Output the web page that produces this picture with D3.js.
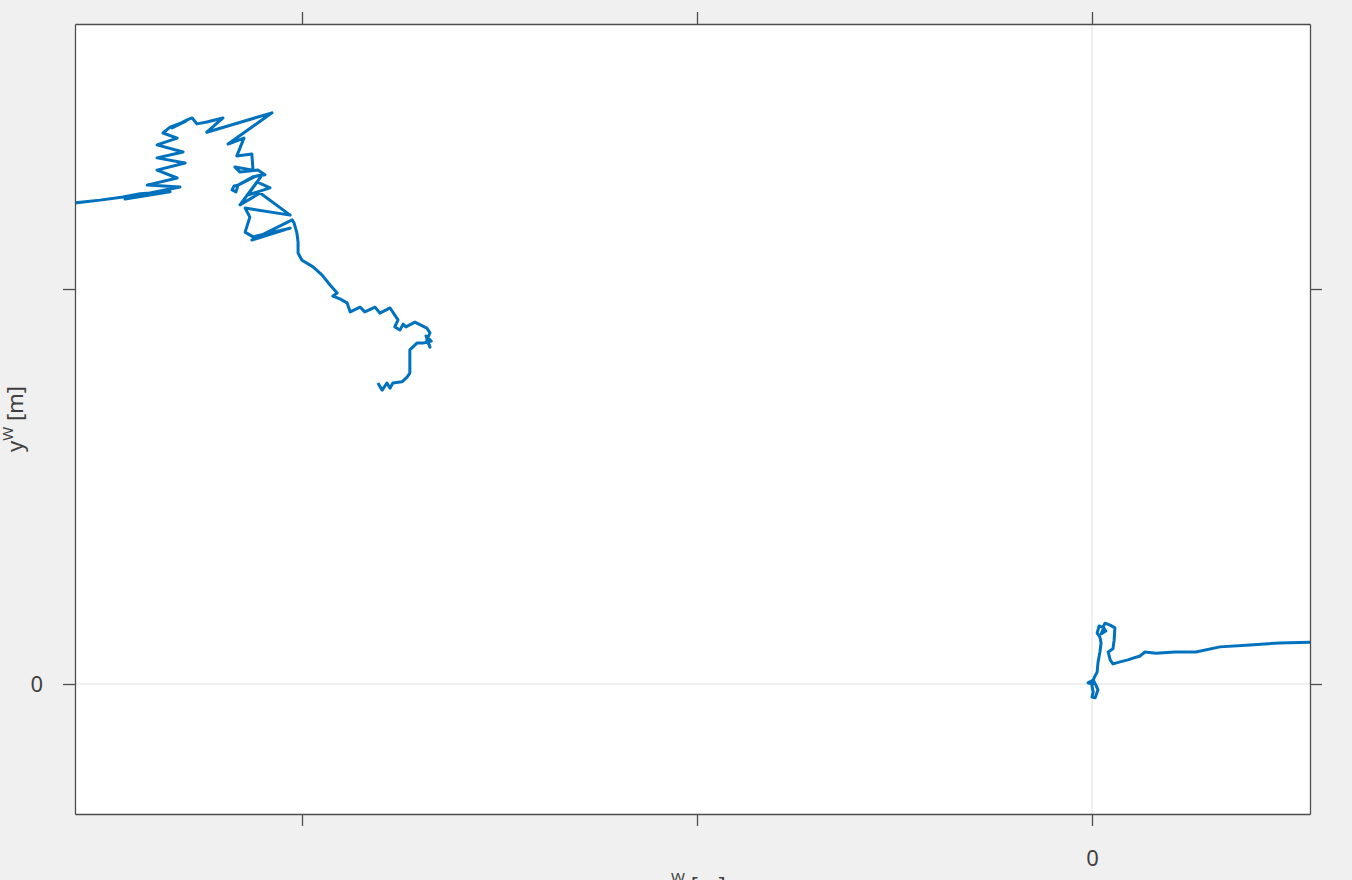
<!DOCTYPE html>
<html>
<head>
<meta charset="utf-8">
<script src="https://cdn.jsdelivr.net/npm/d3@7"></script>
<style>
  html, body { margin: 0; padding: 0; background: #f0f0f0; }
  svg { display: block; font-family: "Noto Sans", "Open Sans", sans-serif; }
</style>
</head>
<body>
<svg id="chart" width="1352" height="880"></svg>
<script>
// ---- data (metres, world frame) ----
const xTicks = [-20, -10, 0];
const xTickLabels = ["", "", "0"];
const yTicks = [0, 10];
const yTickLabels = ["0", ""];
const xDomain = [-25.747, 5.519];
const yDomain = [-3.291, 16.709];

// segment near the origin, leaving to the right
const trackAx = [0, -0.10, 0.03, 0.10, 0.15, 0.08, 0, 0.03, 0, 0.05, 0.13, 0.15, 0.20, 0.23, 0.20, 0.13, 0.18, 0.30, 0.23, 0.35, 0.28, 0.33, 0.46, 0.58, 0.56, 0.53, 0.41, 0.46, 0.53, 0.71, 0.91, 1.06, 1.22, 1.34, 1.62, 2.10, 2.63, 3.24, 4.00, 4.76, 5.52, 6.28];
const trackAy = [0, 0.03, 0.10, -0.03, -0.15, -0.35, -0.33, -0.20, -0.05, 0.15, 0.30, 0.53, 0.81, 1.04, 1.19, 1.29, 1.47, 1.42, 1.27, 1.34, 1.44, 1.54, 1.49, 1.42, 1.11, 0.89, 0.81, 0.61, 0.51, 0.56, 0.61, 0.66, 0.71, 0.81, 0.78, 0.81, 0.81, 0.94, 0.99, 1.04, 1.06, 1.09];

// segment entering from the left
const trackBx = [-26.38, -25.75, -25.11, -24.53, -24.10, -23.34, -24.48, -23.39, -24.35, -23.09, -23.92, -23.16, -23.67, -22.96, -23.67, -23.01, -23.67, -23.16, -23.52, -23.34, -22.94, -23.29, -22.91, -22.78, -22.66, -22.41, -22.00, -22.41, -20.76, -21.87, -21.47, -21.65, -21.27, -21.24, -21.70, -21.57, -21.11, -20.94, -21.24, -21.62, -21.72, -21.77, -21.67, -21.62, -21.16, -21.01, -21.37, -20.81, -21.14, -21.57, -21.06, -20.30, -21.44, -21.32, -21.44, -21.24, -20.30, -21.27, -20.25, -20.20, -20.13, -20.10, -20.10, -20.00, -19.72, -19.49, -19.29, -19.11, -19.22, -19.04, -18.86, -18.78, -18.53, -18.41, -18.15, -18.03, -17.77, -17.65, -17.57, -17.65, -17.52, -17.44, -17.37, -17.14, -16.84, -16.76, -16.84, -16.76, -16.86, -16.73, -16.94, -17.09, -17.27, -17.27, -17.34, -17.47, -17.70, -17.77, -17.85, -17.97, -18.08];
const trackBy = [12.15, 12.18, 12.25, 12.33, 12.41, 12.46, 12.28, 12.51, 12.33, 12.58, 12.63, 12.81, 13.01, 13.19, 13.32, 13.47, 13.65, 13.82, 13.95, 14.10, 14.25, 14.08, 14.28, 14.33, 14.18, 14.23, 14.33, 13.97, 14.46, 13.67, 13.82, 13.37, 13.42, 13.01, 13.09, 12.96, 13.01, 12.89, 12.84, 12.63, 12.61, 12.51, 12.46, 12.63, 12.86, 12.89, 12.38, 12.56, 12.71, 12.13, 12.43, 11.87, 12.05, 11.82, 11.44, 11.32, 11.54, 11.24, 11.75, 11.67, 11.42, 11.19, 10.91, 10.73, 10.56, 10.35, 10.10, 9.90, 9.82, 9.75, 9.65, 9.42, 9.54, 9.42, 9.54, 9.39, 9.52, 9.34, 9.22, 9.04, 8.96, 9.11, 9.04, 9.16, 9.01, 8.89, 8.71, 8.53, 8.81, 8.68, 8.63, 8.63, 8.46, 7.87, 7.77, 7.65, 7.62, 7.49, 7.62, 7.44, 7.62];

// ---- layout ----
const svg = d3.select("#chart");
const mLeft = 75, mRight = 1310, mTop = 24, mBottom = 814;
const x = d3.scaleLinear().domain(xDomain).range([mLeft, mRight]);
const y = d3.scaleLinear().domain(yDomain).range([mBottom, mTop]);
const axisColor = "#4d4d4d";
const tickLen = 12;

svg.append("rect").attr("x", mLeft).attr("y", mTop)
  .attr("width", mRight - mLeft).attr("height", mBottom - mTop).attr("fill", "#ffffff");

svg.append("defs").append("clipPath").attr("id", "clip")
  .append("rect").attr("x", mLeft).attr("y", mTop)
  .attr("width", mRight - mLeft).attr("height", mBottom - mTop);

// grid only at zero
svg.append("line").attr("x1", x(0)).attr("x2", x(0)).attr("y1", mTop).attr("y2", mBottom)
  .attr("stroke", "#e0e0e0").attr("stroke-width", 1);
svg.append("line").attr("x1", mLeft).attr("x2", mRight).attr("y1", y(0)).attr("y2", y(0))
  .attr("stroke", "#e0e0e0").attr("stroke-width", 1);

// trajectory
const line = d3.line().x(d => x(d[0])).y(d => y(d[1]));
const segA = trackAx.map((v, i) => [v, trackAy[i]]);
const segB = trackBx.map((v, i) => [v, trackBy[i]]);
const g = svg.append("g").attr("clip-path", "url(#clip)");
[segA, segB].forEach(seg => {
  g.append("path").datum(seg).attr("d", line)
    .attr("fill", "none").attr("stroke", "#0072bd")
    .attr("stroke-width", 3).attr("stroke-linejoin", "round");
});

// axes (outer ticks on all four sides)
function styleAxis(sel) {
  sel.attr("font-size", null).attr("font-family", null);
  sel.selectAll("path.domain").attr("stroke", axisColor).attr("stroke-width", 1.3);
  sel.selectAll(".tick line").attr("stroke", axisColor).attr("stroke-width", 1.3);
  sel.selectAll(".tick text").attr("fill", "#404040")
    .style("font-size", "22px").style("font-family", "'Noto Sans', 'Open Sans', sans-serif");
}
const fmtX = d => xTickLabels[xTicks.indexOf(d)];
const fmtY = d => yTickLabels[yTicks.indexOf(d)];

svg.append("g").attr("transform", `translate(0,${mBottom})`)
  .call(d3.axisBottom(x).tickValues(xTicks).tickFormat(fmtX).tickSizeInner(tickLen).tickSizeOuter(0).tickPadding(24))
  .call(styleAxis);
svg.append("g").attr("transform", `translate(0,${mTop})`)
  .call(d3.axisTop(x).tickValues(xTicks).tickFormat(() => "").tickSizeInner(tickLen).tickSizeOuter(0))
  .call(styleAxis);
svg.append("g").attr("transform", `translate(${mLeft},0)`)
  .call(d3.axisLeft(y).tickValues(yTicks).tickFormat(fmtY).tickSizeInner(tickLen).tickSizeOuter(0).tickPadding(20))
  .call(styleAxis);
svg.append("g").attr("transform", `translate(${mRight},0)`)
  .call(d3.axisRight(y).tickValues(yTicks).tickFormat(() => "").tickSizeInner(tickLen).tickSizeOuter(0))
  .call(styleAxis);

// axis labels
const xl = svg.append("text").attr("x", (mLeft + mRight) / 2).attr("y", 893)
  .attr("text-anchor", "middle").attr("fill", "#404040").style("font-size", "22px");
xl.append("tspan").text("x");
xl.append("tspan").attr("dy", -10).style("font-size", "15px").text("W");
xl.append("tspan").attr("dy", 10).text(" [m]");

const yl = svg.append("text").attr("transform", `translate(23,${(mTop + mBottom) / 2}) rotate(-90)`)
  .attr("text-anchor", "middle").attr("fill", "#404040").style("font-size", "22px");
yl.append("tspan").text("y");
yl.append("tspan").attr("dy", -10).style("font-size", "15px").text("W");
yl.append("tspan").attr("dy", 10).text(" [m]");
</script>
</body>
</html>
